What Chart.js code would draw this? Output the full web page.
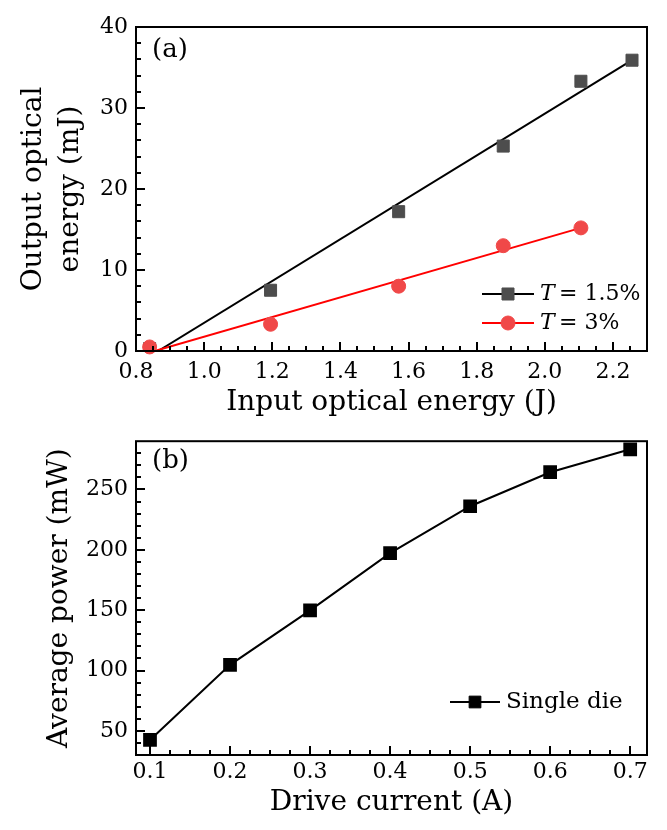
<!DOCTYPE html>
<html><head><meta charset="utf-8">
<script src="https://cdn.jsdelivr.net/npm/chart.js@4"></script>
<style>
body{margin:0;background:#fff;}
.wrap{position:absolute;left:0;width:667px;}
</style>
</head><body>
<div class="wrap" style="top:0;height:420px"><canvas id="ca" width="667" height="420"></canvas></div>
<div class="wrap" style="top:420px;height:410px"><canvas id="cb" width="667" height="410"></canvas></div>
<script>
// ---- Panel (a) data ----
const inputEnergy15 = [0.84, 1.195, 1.571, 1.878, 2.106, 2.256];
const output15 = [0.3, 7.5, 17.2, 25.3, 33.3, 35.9];
const inputEnergy3 = [0.84, 1.195, 1.571, 1.878, 2.106];
const output3 = [0.5, 3.3, 8.0, 13.0, 15.2];
const fit15X = [0.865, 2.256];
const fit15Y = [0, 35.9];
const fit3X = [0.855, 2.106];
const fit3Y = [0, 15.2];
const xMajorA = [0.8, 1.0, 1.2, 1.4, 1.6, 1.8, 2.0, 2.2];
const yMajorA = [0, 10, 20, 30, 40];
// ---- Panel (b) data ----
const driveCurrent = [0.1, 0.2, 0.3, 0.4, 0.5, 0.6, 0.7];
const avgPower = [42.5, 104.7, 149.8, 197.2, 236.1, 264.3, 283.3];
const xMajorB = [0.1, 0.2, 0.3, 0.4, 0.5, 0.6, 0.7];
const yMajorB = [50, 100, 150, 200, 250];

const FONT = "'DejaVu Serif', 'Liberation Serif', serif";
Chart.defaults.font.family = FONT;
Chart.defaults.color = '#000';
Chart.defaults.animation = false;

function tickList(min, max, step){
  const out = [];
  const n = Math.round((max - min) / step);
  for (let i = 0; i <= n; i++) out.push(+(min + i * step).toFixed(4));
  return out;
}
function isMajor(v, majors){ return majors.some(m => Math.abs(m - v) < 1e-6); }

function frameTicks(majorsX, majorsY, lenMaj, lenMin){
  return {
    id: 'frameTicks',
    afterDraw(chart){
      const ctx = chart.ctx, a = chart.chartArea;
      const xs = chart.scales.x, ys = chart.scales.y;
      ctx.save();
      ctx.strokeStyle = '#000';
      ctx.lineWidth = 2;
      ctx.beginPath();
      xs.ticks.forEach(t => {
        const px = Math.round(xs.getPixelForValue(t.value));
        const L = isMajor(t.value, majorsX) ? lenMaj : lenMin;
        ctx.moveTo(px, a.bottom); ctx.lineTo(px, a.bottom - L);
      });
      ys.ticks.forEach(t => {
        const py = Math.round(ys.getPixelForValue(t.value));
        const L = isMajor(t.value, majorsY) ? lenMaj : lenMin;
        ctx.moveTo(a.left, py); ctx.lineTo(a.left + L, py);
      });
      ctx.stroke();
      ctx.lineWidth = 2;
      ctx.strokeRect(a.left, a.top, a.right - a.left, a.bottom - a.top);
      ctx.restore();
    }
  };
}

function legendPlugin(items, panelLabel, labelDy){
  return {
    id: 'customLegend',
    afterDraw(chart){
      const ctx = chart.ctx, a = chart.chartArea;
      ctx.save();
      ctx.fillStyle = '#000';
      ctx.font = '26px ' + FONT;
      ctx.textBaseline = 'middle';
      ctx.textAlign = 'left';
      ctx.fillText(panelLabel, a.left + 16, a.top + labelDy);
      items.forEach(it => {
        const x0 = a.right - it.dx, y = a.bottom - it.dy;
        ctx.strokeStyle = it.line; ctx.lineWidth = 2;
        ctx.beginPath(); ctx.moveTo(x0, y); ctx.lineTo(x0 + it.len, y); ctx.stroke();
        ctx.fillStyle = it.fill; ctx.strokeStyle = it.fill; ctx.lineWidth = 1;
        Chart.helpers.drawPoint(ctx, {pointStyle: it.style, radius: it.r, borderWidth: 1, rotation: 0}, x0 + it.len / 2, y);
        ctx.fillStyle = '#000';
        let tx = x0 + it.len + 6;
        it.parts.forEach(p => {
          ctx.font = (p.italic ? 'italic ' : '') + it.size + 'px ' + FONT;
          ctx.fillText(p.t, tx, y);
          tx += ctx.measureText(p.t).width;
        });
      });
      ctx.restore();
    }
  };
}

// ---------- Chart (a) ----------
new Chart(document.getElementById('ca'), {
  type: 'scatter',
  data: {
    datasets: [
      {label: 'T=3% points', data: inputEnergy3.map((x,i)=>({x, y: output3[i]})),
       pointStyle: 'circle', pointRadius: 7, backgroundColor: '#f04848', borderColor: '#f04848', borderWidth: 1, order: 0, clip: false},
      {label: 'T=1.5% points', data: inputEnergy15.map((x,i)=>({x, y: output15[i]})),
       pointStyle: 'rect', pointRadius: 8.5, backgroundColor: '#4d4d4d', borderColor: '#4d4d4d', borderWidth: 1, order: 1},
      {label: 'T=3% fit', type: 'line', data: fit3X.map((x,i)=>({x, y: fit3Y[i]})),
       showLine: true, pointRadius: 0, borderColor: '#ff0000', borderWidth: 2, order: 2},
      {label: 'T=1.5% fit', type: 'line', data: fit15X.map((x,i)=>({x, y: fit15Y[i]})),
       showLine: true, pointRadius: 0, borderColor: '#000', borderWidth: 2, order: 3}
    ]
  },
  options: {
    responsive: false,
    layout: {padding: {top: 27, right: 20, left: 15, bottom: 0}},
    plugins: {legend: {display: false}, tooltip: {enabled: false}},
    scales: {
      x: {
        type: 'linear', min: 0.8, max: 2.3,
        grid: {display: false, tickLength: 0}, border: {display: false},
        afterBuildTicks: s => { s.ticks = tickList(0.8, 2.3, 0.05).map(v => ({value: v})); },
        afterFit: s => { s.height = 69; },
        ticks: {font: {size: 22}, padding: 8, maxRotation: 0, autoSkip: false,
          callback: v => isMajor(v, xMajorA) ? v.toFixed(1) : ''},
        title: {display: true, text: 'Input optical energy (J)', font: {size: 28}, padding: 0}
      },
      y: {
        type: 'linear', min: 0, max: 40,
        grid: {display: false, tickLength: 0}, border: {display: false},
        afterBuildTicks: s => { s.ticks = tickList(0, 40, 2).map(v => ({value: v})); },
        afterFit: s => { s.width = 121; },
        ticks: {font: {size: 22}, padding: 8, autoSkip: false,
          callback: v => isMajor(v, yMajorA) ? String(v) : ''},
        title: {display: true, text: ['Output optical', 'energy (mJ)'], font: {size: 28, lineHeight: 1.32}, padding: 0}
      }
    }
  },
  plugins: [frameTicks(xMajorA, yMajorA, 9, 5), legendPlugin([
    {dx: 165, dy: 57, len: 52, size: 22, line: '#000', fill: '#4d4d4d', style: 'rect', r: 8.5, parts: [{t:'T', italic:true},{t:'\u2009= 1.5%'}]},
    {dx: 165, dy: 28, len: 52, size: 22, line: '#ff0000', fill: '#f04848', style: 'circle', r: 7, parts: [{t:'T', italic:true},{t:'\u2009= 3%'}]}
  ], '(a)', 23)]
});

// ---------- Chart (b) ----------
new Chart(document.getElementById('cb'), {
  type: 'line',
  data: {
    datasets: [
      {label: 'Single die', data: driveCurrent.map((x,i)=>({x, y: avgPower[i]})),
       pointStyle: 'rect', pointRadius: 8.3, backgroundColor: '#000', borderColor: '#000', borderWidth: 2, tension: 0}
    ]
  },
  options: {
    responsive: false,
    layout: {padding: {top: 12, right: 20, left: 43, bottom: 10}},
    plugins: {legend: {display: false}, tooltip: {enabled: false}},
    scales: {
      x: {
        type: 'linear', min: 0.0825, max: 0.721,
        grid: {display: false, tickLength: 0}, border: {display: false},
        afterBuildTicks: s => { s.ticks = tickList(0.1, 0.7, 0.025).map(v => ({value: v})); },
        afterFit: s => { s.height = 65; },
        ticks: {font: {size: 22}, padding: 4, maxRotation: 0, autoSkip: false,
          callback: v => isMajor(v, xMajorB) ? v.toFixed(1) : ''},
        title: {display: true, text: 'Drive current (A)', font: {size: 28}, padding: 0}
      },
      y: {
        type: 'linear', min: 30, max: 290,
        grid: {display: false, tickLength: 0}, border: {display: false},
        afterBuildTicks: s => { s.ticks = tickList(40, 280, 10).map(v => ({value: v})); },
        afterFit: s => { s.width = 93; },
        ticks: {font: {size: 22}, padding: 8, autoSkip: false,
          callback: v => isMajor(v, yMajorB) ? String(v) : ''},
        title: {display: true, text: 'Average power (mW)', font: {size: 28}, padding: 0}
      }
    }
  },
  plugins: [frameTicks(xMajorB, yMajorB, 9, 5), legendPlugin([
    {dx: 197, dy: 53, len: 50, size: 23, line: '#000', fill: '#000', style: 'rect', r: 8.3, parts: [{t:'Single die'}]}
  ], '(b)', 20)]
});
</script>
</body></html>
